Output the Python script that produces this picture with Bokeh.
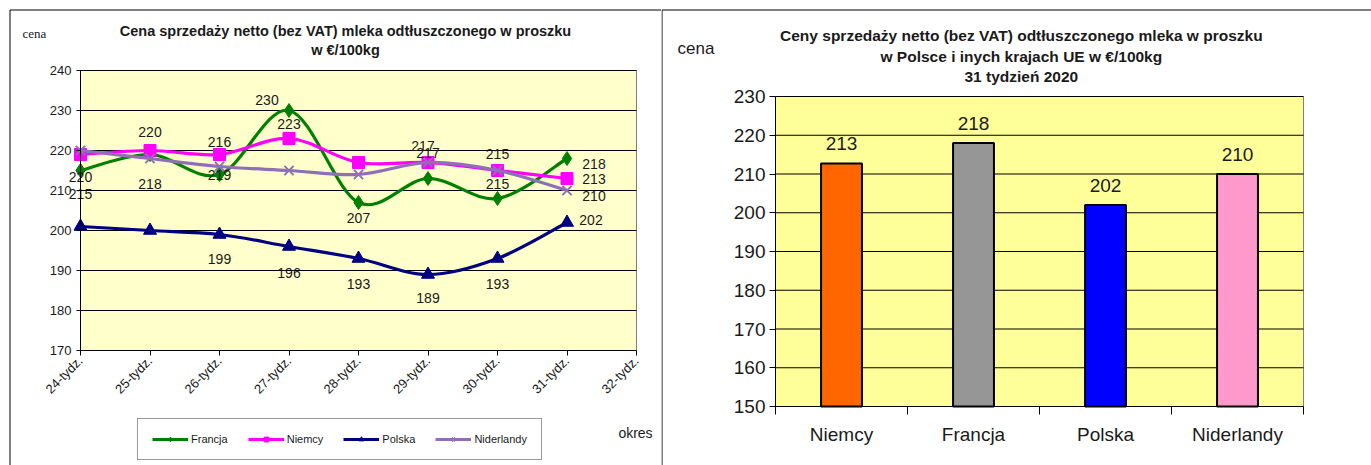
from bokeh.plotting import figure
from bokeh.models import (ColumnDataSource, FixedTicker, Label, Legend, LegendItem,
                          LinearAxis)
from bokeh.layouts import row
from bokeh.embed import file_html
from bokeh.resources import INLINE
from bokeh.core.properties import value

# ---------------- data ----------------
weeks = ["24-tydz.", "25-tydz.", "26-tydz.", "27-tydz.", "28-tydz.",
         "29-tydz.", "30-tydz.", "31-tydz.", "32-tydz."]
francja = [215, 219, 214, 230, 207, 213, 208, 218]
niemcy = [219, 220, 219, 223, 217, 217, 215, 213]
polska = [201, 200, 199, 196, 193, 189, 193, 202]
niderlandy = [220, 218, 216, 215, 214, 217, 215, 210]
line_ticks = [170, 180, 190, 200, 210, 220, 230, 240]

bar_countries = ["Niemcy", "Francja", "Polska", "Niderlandy"]
bar_values = [212.7, 218, 202, 210]
bar_ticks = [150, 160, 170, 180, 190, 200, 210, 220, 230]

# ---------------- styles ----------------
FONT = "Liberation Sans"
TXT = "#1a1a1a"
series = {
    "Francja": dict(y=francja, color="#008000", marker="diamond", size=14),
    "Niemcy": dict(y=niemcy, color="#FF00FF", marker="square", size=12),
    "Polska": dict(y=polska, color="#000080", marker="triangle", size=13),
    "Niderlandy": dict(y=niderlandy, color="#8E6FB8", marker="x", size=13),
}
order = ["Francja", "Niemcy", "Polska", "Niderlandy"]
# (series, point index, x offset px, y offset px)
label_spec = [
    ("Niderlandy", 0, 0, 26), ("Francja", 0, 0, 23),
    ("Niemcy", 1, 0, -19), ("Niderlandy", 1, 0, 25),
    ("Niderlandy", 2, 0, -25), ("Niemcy", 2, 0, 20), ("Polska", 2, 0, 24),
    ("Francja", 3, -22, -11), ("Niemcy", 3, 0, -15), ("Polska", 3, 0, 26),
    ("Francja", 4, 0, 15), ("Polska", 4, 0, 25),
    ("Niemcy", 5, -5, -17), ("Niderlandy", 5, 0, -10), ("Polska", 5, 0, 23),
    ("Niemcy", 6, 0, -17), ("Niderlandy", 6, 0, 13), ("Polska", 6, 0, 25),
    ("Francja", 7, 27, 5), ("Niemcy", 7, 27, 0), ("Niderlandy", 7, 27, 5),
    ("Polska", 7, 24, -3),
]


def bezier_segments(xs, ys):
    n = len(xs)
    d = dict(x0=[], y0=[], x1=[], y1=[], cx0=[], cy0=[], cx1=[], cy1=[])
    for i in range(n - 1):
        p0 = i - 1 if i > 0 else i
        p3 = i + 2 if i + 2 < n else i + 1
        d["x0"].append(xs[i]); d["y0"].append(ys[i])
        d["x1"].append(xs[i + 1]); d["y1"].append(ys[i + 1])
        d["cx0"].append(xs[i] + (xs[i + 1] - xs[p0]) / 6.0)
        d["cy0"].append(ys[i] + (ys[i + 1] - ys[p0]) / 6.0)
        d["cx1"].append(xs[i + 1] - (xs[p3] - xs[i]) / 6.0)
        d["cy1"].append(ys[i + 1] - (ys[p3] - ys[i]) / 6.0)
    return d


def style_axis(ax, size):
    ax.axis_line_color = "black"
    ax.major_tick_line_color = "black"
    ax.major_tick_in = 0
    ax.major_label_text_font = FONT
    ax.major_label_text_font_size = size
    ax.major_label_text_color = TXT


H = 465
# ---------------- left: line chart ----------------
LW = 661
L_LEFT, L_RIGHT, L_TOP, L_BOTTOM = 80, 636, 70, 350      # plot box in canvas px
nx = len(weeks) - 1
lppx = (L_RIGHT - L_LEFT) / nx
lppy = (L_BOTTOM - L_TOP) / (line_ticks[-1] - line_ticks[0])
lx = lambda px: (px - L_LEFT) / lppx
ly = lambda py: line_ticks[0] + (L_BOTTOM - py) / lppy

left = figure(width=LW, height=H, x_range=(lx(0), lx(LW)), y_range=(ly(H), ly(0)),
              output_backend="svg", toolbar_location=None, min_border=0,
              x_axis_location=None, y_axis_location=None,
              background_fill_color="white", border_fill_color="white",
              outline_line_color=None)
left.grid.visible = False

# page frame lines
left.segment(x0=[lx(9.5), lx(9.5)], y0=[ly(9.5), ly(9.5)], x1=[lx(9.5), lx(LW + 2)],
             y1=[ly(H + 2), ly(9.5)], line_color="black", line_width=1)

left.quad(left=0, right=nx, bottom=line_ticks[0], top=line_ticks[-1], fill_color="#FFFFCC",
          line_color="#808080", line_width=1, level="underlay")
left.segment(x0=0, x1=nx, y0=line_ticks[1:], y1=line_ticks[1:], line_color="black",
             line_width=1, level="underlay")

yax = LinearAxis(fixed_location=0, bounds=(line_ticks[0], line_ticks[-1]),
                 ticker=FixedTicker(ticks=line_ticks))
style_axis(yax, "13px")
yax.major_tick_out = 4
yax.major_label_standoff = 5
yax.minor_tick_line_color = None
left.add_layout(yax, "left")

xs = list(range(nx))
xax = LinearAxis(fixed_location=line_ticks[0], bounds=(0, nx),
                 ticker=FixedTicker(ticks=list(range(len(weeks)))))
xax.major_label_overrides = {i: w for i, w in enumerate(weeks)}
xax.major_label_orientation = 0.785398
style_axis(xax, "13px")
xax.major_tick_out = 5
xax.major_label_standoff = 3
xax.minor_tick_line_color = None
left.add_layout(xax, "below")

items = []
for name in order:
    s = series[name]
    seg = ColumnDataSource(bezier_segments(xs, s["y"]))
    left.bezier("x0", "y0", "x1", "y1", "cx0", "cy0", "cx1", "cy1", source=seg,
                line_color=s["color"], line_width=3.2, line_cap="round")
    # legend-only line sample (no visible data point)
    lr = left.line(x=[float("nan")], y=[float("nan")], line_color=s["color"], line_width=3)
    kw = dict(line_color=s["color"], fill_color=s["color"], size=s["size"])
    if s["marker"] == "x":
        kw["line_width"] = 2
    sr = left.scatter(xs, s["y"], marker=s["marker"], **kw)
    items.append(LegendItem(label=name, renderers=[lr, sr], index=0))

lab = dict(x=[], y=[], t=[], dx=[], dy=[])
for name, i, dx, dy in label_spec:
    v = series[name]["y"][i]
    lab["x"].append(xs[i]); lab["y"].append(v)
    lab["t"].append(str(int(round(v)))); lab["dx"].append(dx); lab["dy"].append(dy)
left.text(x="x", y="y", text="t", x_offset="dx", y_offset="dy",
          source=ColumnDataSource(lab), text_align="center", text_baseline="middle",
          text_font=value(FONT), text_font_size="14px", text_color=TXT)

legend = Legend(items=items, location=(137, 5), orientation="horizontal",
                border_line_color="#333333", border_line_width=1,
                background_fill_color="white", background_fill_alpha=1,
                label_text_font=FONT, label_text_font_size="11px", label_text_color=TXT,
                glyph_width=36, glyph_height=12, label_height=12, label_standoff=3,
                spacing=20, padding=14, margin=0)
left.add_layout(legend)

left.add_layout(Label(x=345, y=H - 30, x_units="screen", y_units="screen",
                      text="Cena sprzedaży netto (bez VAT) mleka odtłuszczonego w proszku",
                      text_align="center", text_baseline="middle", text_font=FONT,
                      text_font_style="bold", text_font_size="14.5px", text_color=TXT))
left.add_layout(Label(x=345, y=H - 49, x_units="screen", y_units="screen",
                      text="w €/100kg", text_align="center", text_baseline="middle",
                      text_font=FONT, text_font_style="bold", text_font_size="14.5px",
                      text_color=TXT))
left.add_layout(Label(x=22, y=H - 33, x_units="screen", y_units="screen", text="cena",
                      text_align="left", text_baseline="middle", text_font="Liberation Serif",
                      text_font_size="13px", text_color=TXT))
left.add_layout(Label(x=635, y=H - 432, x_units="screen", y_units="screen", text="okres",
                      text_align="center", text_baseline="middle", text_font=FONT,
                      text_font_size="14px", text_color=TXT))

# ---------------- right: bar chart ----------------
RW = 710
R_LEFT, R_RIGHT, R_TOP, R_BOTTOM = 114, 642, 96, 406
nb = len(bar_countries)
rppx = (R_RIGHT - R_LEFT) / nb
rppy = (R_BOTTOM - R_TOP) / (bar_ticks[-1] - bar_ticks[0])
rx = lambda px: (px - R_LEFT) / rppx
ry = lambda py: bar_ticks[0] + (R_BOTTOM - py) / rppy

right = figure(width=RW, height=H, x_range=(rx(0), rx(RW)), y_range=(ry(H), ry(0)),
               output_backend="svg", toolbar_location=None, min_border=0,
               x_axis_location=None, y_axis_location=None,
               background_fill_color="white", border_fill_color="white",
               outline_line_color=None)
right.grid.visible = False

right.segment(x0=[rx(0.5), rx(0.5)], y0=[ry(9.5), ry(9.5)], x1=[rx(0.5), rx(RW + 2)],
              y1=[ry(H + 2), ry(9.5)], line_color="black", line_width=1)

right.quad(left=0, right=nb, bottom=bar_ticks[0], top=bar_ticks[-1], fill_color="#FFFF99",
           line_color="#808080", line_width=1, level="underlay")
right.segment(x0=0, x1=nb, y0=bar_ticks[1:], y1=bar_ticks[1:], line_color="black",
              line_width=1, level="underlay")

ryax = LinearAxis(fixed_location=0, bounds=(bar_ticks[0], bar_ticks[-1]),
                  ticker=FixedTicker(ticks=bar_ticks))
style_axis(ryax, "19px")
ryax.major_tick_out = 6
ryax.major_label_standoff = 4
ryax.minor_tick_line_color = None
right.add_layout(ryax, "left")

centers = [i + 0.5 for i in range(nb)]
rxax = LinearAxis(fixed_location=bar_ticks[0], bounds=(0, nb),
                  ticker=FixedTicker(ticks=centers, minor_ticks=list(range(nb + 1))))
rxax.major_label_overrides = {c: n for c, n in zip(centers, bar_countries)}
style_axis(rxax, "19px")
rxax.major_tick_out = 0
rxax.minor_tick_out = 8
rxax.minor_tick_in = 0
rxax.minor_tick_line_color = "black"
rxax.major_label_standoff = 9
right.add_layout(rxax, "below")

bar_colors = ["#FF6600", "#969696", "#0000FF", "#FF99CC"]
bsrc = ColumnDataSource(dict(x=centers, top=bar_values, c=bar_colors,
                             t=[str(int(round(v))) for v in bar_values]))
right.vbar(x="x", top="top", bottom=bar_ticks[0], width=0.31, fill_color="c",
           line_color="black", line_width=2, source=bsrc)
right.text(x="x", y="top", text="t", source=bsrc, y_offset=-20, text_align="center",
           text_baseline="middle", text_font=value(FONT), text_font_size="19px",
           text_color=TXT)

for txt, yy in [("Ceny sprzedaży netto  (bez VAT) odtłuszczonego mleka w proszku", 35),
                ("w Polsce i inych  krajach UE w €/100kg", 56),
                ("31  tydzień 2020", 76)]:
    right.add_layout(Label(x=362, y=H - yy, x_units="screen", y_units="screen", text=txt,
                           text_align="center", text_baseline="middle", text_font=FONT,
                           text_font_style="bold", text_font_size="15.5px", text_color=TXT))
right.add_layout(Label(x=16, y=H - 48, x_units="screen", y_units="screen", text="cena",
                       text_align="left", text_baseline="middle", text_font=FONT,
                       text_font_size="17px", text_color=TXT))

p = row(left, right)
open("out.html", "w").write(file_html(p, INLINE))
